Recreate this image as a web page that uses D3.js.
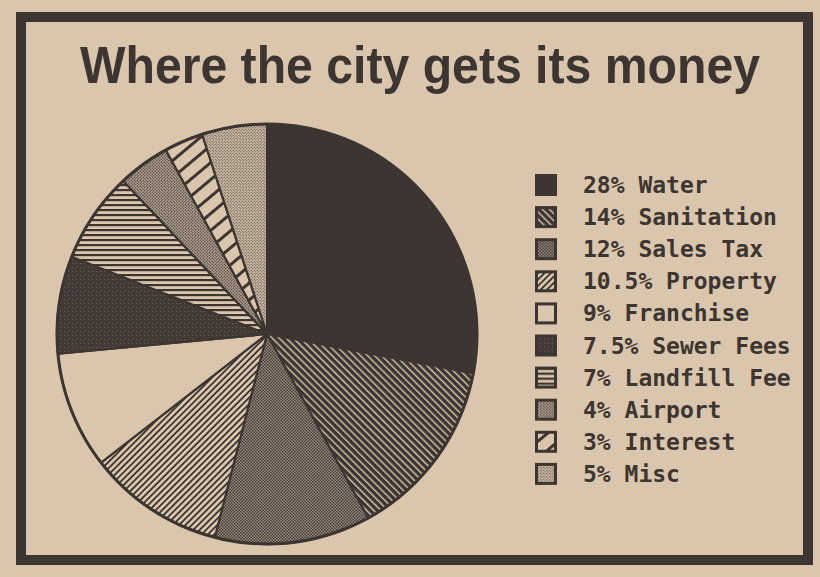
<!DOCTYPE html>
<html>
<head>
<meta charset="utf-8">
<script src="https://cdn.jsdelivr.net/npm/d3@7"></script>
<style>
  html, body { margin: 0; padding: 0; background: #d9c6ac; }
  svg { display: block; }
</style>
</head>
<body>
<svg id="chart"></svg>
<script>
const categories = ["Water", "Sanitation", "Sales Tax", "Property", "Franchise",
                    "Sewer Fees", "Landfill Fee", "Airport", "Interest", "Misc"];
const shares = [28, 14, 12, 10.5, 9, 7.5, 7, 4, 3, 5];
const shareLabels = ["28%", "14%", "12%", "10.5%", "9%", "7.5%", "7%", "4%", "3%", "5%"];
const fills = ["water", "sanitation", "sales", "property", "franchise",
               "sewer", "landfill", "airport", "interest", "misc"];

const width = 820, height = 577;
const paper = "#d9c6ac", ink = "#3d3531";

const svg = d3.select("#chart")
    .attr("width", width)
    .attr("height", height);

const defs = svg.append("defs");

// helper to build a pattern with a background rect
function pattern(id, size, bg, transform) {
  let p = defs.append("pattern")
      .attr("id", id)
      .attr("patternUnits", "userSpaceOnUse")
      .attr("width", size)
      .attr("height", size);
  if (transform) p.attr("patternTransform", transform);
  p.append("rect").attr("width", size).attr("height", size).attr("fill", bg);
  return p;
}

// Sanitation: dark with light diagonal stripes
pattern("sanitation", 5, ink, "rotate(-45)")
  .append("rect").attr("x", 0).attr("y", 0).attr("width", 1.4).attr("height", 5).attr("fill", paper);

// Sales tax: fine checker, mid grey
let st = pattern("sales", 3, "#a09182");
st.append("rect").attr("width", 1.5).attr("height", 1.5).attr("fill", ink);
st.append("rect").attr("x", 1.5).attr("y", 1.5).attr("width", 1.5).attr("height", 1.5).attr("fill", ink);

// Property: thin dark diagonal lines on paper
pattern("property", 4.5, paper, "rotate(45)")
  .append("rect").attr("width", 1.8).attr("height", 4.5).attr("fill", ink);

// Franchise: plain paper
pattern("franchise", 4, paper);

// Sewer fees: dark with sparse light dots
pattern("sewer", 4, "#433a36")
  .append("rect").attr("x", 1).attr("y", 1).attr("width", 0.8).attr("height", 0.8).attr("fill", "#8a7d72");

// Landfill: horizontal lines
pattern("landfill", 5, paper)
  .append("rect").attr("y", 0).attr("width", 5).attr("height", 2.2).attr("fill", ink);

// Airport: dense dots
let ap = pattern("airport", 3, "#b3a390");
ap.append("circle").attr("cx", 0.75).attr("cy", 0.75).attr("r", 0.7).attr("fill", ink);
ap.append("circle").attr("cx", 2.25).attr("cy", 2.25).attr("r", 0.7).attr("fill", ink);

// Interest: wide diagonal stripes
pattern("interest", 13, paper, "rotate(50)")
  .append("rect").attr("width", 3).attr("height", 13).attr("fill", ink);

// Misc: light dots
let mp = pattern("misc", 3, "#c9b8a2");
mp.append("circle").attr("cx", 0.75).attr("cy", 0.75).attr("r", 0.55).attr("fill", ink);
mp.append("circle").attr("cx", 2.25).attr("cy", 2.25).attr("r", 0.55).attr("fill", ink);

const fillFor = i => i === 0 ? ink : `url(#${fills[i]})`;

// Frame
svg.append("rect")
    .attr("x", 21)
    .attr("y", 17)
    .attr("width", 787)
    .attr("height", 543)
    .attr("fill", "none")
    .attr("stroke", ink)
    .attr("stroke-width", 10);

// Title
svg.append("text")
    .attr("x", 80)
    .attr("y", 83)
    .attr("textLength", 680)
    .attr("lengthAdjust", "spacingAndGlyphs")
    .attr("font-family", "'Liberation Sans', Arial, sans-serif")
    .attr("font-weight", "bold")
    .attr("font-size", 52)
    .attr("fill", ink)
    .text("Where the city gets its money");

// Pie
const cx = 267, cy = 334, radius = 210;

const pie = d3.pie().sort(null).value(d => d)(shares);
const arc = d3.arc().innerRadius(0).outerRadius(radius);

const g = svg.append("g")
    .attr("transform", `translate(${cx},${cy})`);

g.selectAll("path.slice")
    .data(pie)
  .join("path")
    .attr("class", "slice")
    .attr("d", arc)
    .attr("fill", (d, i) => fillFor(i))
    .attr("stroke", ink)
    .attr("stroke-width", 2.2)
    .attr("stroke-linejoin", "round");

g.append("circle")
    .attr("r", radius)
    .attr("fill", "none")
    .attr("stroke", ink)
    .attr("stroke-width", 3);

// Legend
const legendX = 535, legendY = 185, rowH = 32.1, sw = 22;

const rows = svg.append("g").selectAll("g.row")
    .data(categories)
  .join("g")
    .attr("class", "row")
    .attr("transform", (d, i) => `translate(${legendX},${legendY + i * rowH})`);

rows.append("rect")
    .attr("x", 1.5)
    .attr("y", -sw / 2 + 1.5)
    .attr("width", sw - 3)
    .attr("height", sw - 3)
    .attr("fill", (d, i) => fillFor(i))
    .attr("stroke", ink)
    .attr("stroke-width", 3);

rows.append("text")
    .attr("x", 48)
    .attr("y", 8)
    .attr("font-family", "'DejaVu Sans Mono', monospace")
    .attr("font-weight", "bold")
    .attr("font-size", 23)
    .attr("fill", ink)
    .text((d, i) => `${shareLabels[i]} ${d}`);
</script>
</body>
</html>
